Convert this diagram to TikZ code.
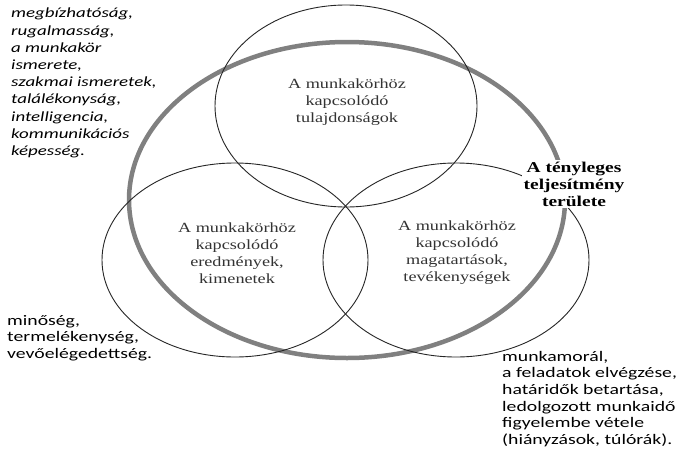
\documentclass[tikz,border=0pt]{standalone}
\usepackage{fontspec}
\setmainfont{Liberation Serif}
\newfontfamily\calfont[FakeStretch=1.35]{Carlito}
\newfontfamily\serfont[FakeStretch=1.3]{Liberation Serif}
\tikzset{
  thin ell/.style={draw=black!85, line width=0.9pt},
  gray ring/.style={draw=black!50, line width=4.5pt},
  circ text/.style={font=\serfont\fontsize{14}{17}\selectfont, text=black!80, align=center, inner sep=0pt},
  side text/.style={font=\calfont\fontsize{14}{17}\selectfont, text=black, align=left, inner sep=0pt, anchor=north west},
  area label/.style={font=\serfont\bfseries\fontsize{15}{17}\selectfont, fill=white, align=center, inner sep=1.5pt}
}
\begin{document}
\begin{tikzpicture}[x=1pt,y=-1pt]
\useasboundingbox (0,0) rectangle (679,450);
\fill[white] (0,0) rectangle (679,450);
% gray area of actual performance
\draw[gray ring] (347,200) ellipse [x radius=218, y radius=158];
% three ellipses
\draw[thin ell] (346,106) ellipse [x radius=131, y radius=101];
\draw[thin ell] (235,260) ellipse [x radius=133, y radius=97];
\draw[thin ell] (456,260) ellipse [x radius=133, y radius=97];
% texts inside
\node[circ text] (tul) at (347,102) {A munkakörhöz\\kapcsolódó\\tulajdonságok};
\node[circ text] (ered) at (237,253) {A munkakörhöz\\kapcsolódó\\eredmények,\\kimenetek};
\node[circ text] (mag) at (457,253) {A munkakörhöz\\kapcsolódó\\magatartások,\\tevékenységek};
% label
\node[area label] (ter) at (574,184) {A tényleges\\teljesítmény\\területe};
% side texts
\node[side text, font=\calfont\itshape\fontsize{14}{17.2}\selectfont] (tl) at (11,8) {megbízhatóság,\\rugalmasság,\\a munkakör\\ismerete,\\szakmai ismeretek,\\találékonyság,\\intelligencia,\\kommunikációs\\képesség.};
\node[side text, font=\calfont\fontsize{14.6}{16.6}\selectfont] (bl) at (7,315) {minőség,\\termelékenység,\\vevőelégedettség.};
\node[side text, font=\calfont\fontsize{14.6}{16.6}\selectfont] (br) at (502,351) {munkamorál,\\a feladatok elvégzése,\\határidők betartása,\\ledolgozott munkaidő\\figyelembe vétele\\(hiányzások, túlórák).};
\end{tikzpicture}
\end{document}
